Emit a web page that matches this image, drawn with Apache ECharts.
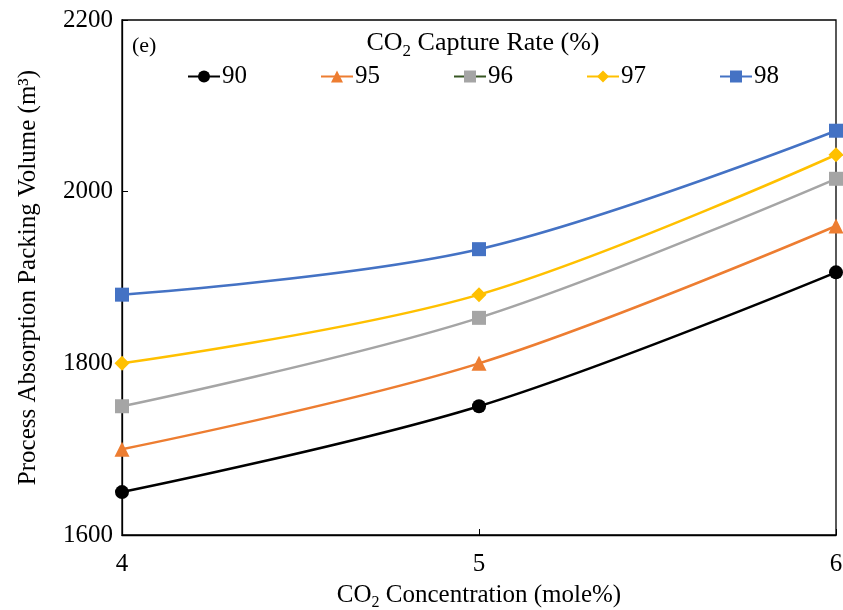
<!DOCTYPE html>
<html><head><meta charset="utf-8">
<script src="https://cdn.jsdelivr.net/npm/echarts@6/dist/echarts.min.js"></script>
<style>html,body{margin:0;padding:0;background:#fff}#c{width:843px;height:610px}</style>
</head><body><div id="c"></div>
<script>
const concentrations = [4, 5, 6];
const seriesNames = ['90', '95', '96', '97', '98'];
const v90 = [1650, 1750, 1906];
const v95 = [1700, 1800, 1960];
const v96 = [1750, 1853, 2015];
const v97 = [1800, 1880, 2043];
const v98 = [1880, 1933, 2071];
const yTicks = [1600, 1800, 2000, 2200];
const xTicks = [4, 5, 6];

const values = [v90, v95, v96, v97, v98];
const colors = ['#000000', '#ED7D31', '#A5A5A5', '#FFC000', '#4472C4'];
const symbols = ['circle', 'triangle', 'rect', 'diamond', 'rect'];
const symSizes = [14, 15, 14, 15, 14];
const legendLine = ['#000000', '#ED7D31', '#375623', '#FFC000', '#4472C4'];
const font = 'Liberation Serif, Times New Roman, serif';

const chart = echarts.init(document.getElementById('c'));
chart.setOption({
  animation: false,
  textStyle: { fontFamily: font },
  grid: { left: 122, right: 7, top: 20, bottom: 75, show: true, borderColor: '#000', borderWidth: 1.3,
          containLabel: false, outerBoundsMode: 'none' },
  title: [{
    text: '(e)', left: 127, top: 30,
    textStyle: { fontFamily: font, fontSize: 22, fontWeight: 'normal', color: '#000' }
  }, {
    text: 'CO{s|2} Capture Rate (%)', left: 478, textAlign: 'center', top: 22,
    textStyle: { fontFamily: font, fontSize: 26, fontWeight: 'normal', color: '#000',
      rich: { s: { fontFamily: font, fontSize: 17, verticalAlign: 'bottom', padding: [16, 0, 0, 0] } } }
  }],
  legend: {
    top: 59, left: 182, itemGap: 73, itemWidth: 32, itemHeight: 15,
    textStyle: { fontFamily: font, fontSize: 25, color: '#000', padding: [0, 0, 0, -3] },
    data: seriesNames.map((n, i) => ({ name: n, lineStyle: { color: legendLine[i] } }))
  },
  xAxis: {
    type: 'value', min: 4, max: 6, interval: 1,
    name: 'CO{s|2} Concentration (mole%)', nameLocation: 'middle', nameGap: 45,
    nameTextStyle: { fontFamily: font, fontSize: 25, color: '#000',
      rich: { s: { fontFamily: font, fontSize: 16, verticalAlign: 'bottom', padding: [15, 0, 0, 0] } } },
    axisLine: { lineStyle: { color: '#000', width: 1.3 } },
    axisTick: { inside: true, length: 6, lineStyle: { color: '#000' } },
    axisLabel: { fontFamily: font, fontSize: 25, color: '#000', margin: 17,
      formatter: v => xTicks.includes(v) ? String(v) : '' },
    splitLine: { show: false }
  },
  yAxis: {
    type: 'value', min: 1600, max: 2200, interval: 200,
    name: 'Process Absorption Packing Volume (m³)', nameLocation: 'middle', nameGap: 81,
    nameTextStyle: { fontFamily: font, fontSize: 25, color: '#000' },
    axisLine: { lineStyle: { color: '#000', width: 1.3 } },
    axisTick: { inside: true, length: 6, lineStyle: { color: '#000' } },
    axisLabel: { fontFamily: font, fontSize: 25, color: '#000', margin: 9,
      formatter: v => yTicks.includes(v) ? String(v) : '' },
    splitLine: { show: false }
  },
  series: seriesNames.map((n, i) => ({
    name: n, type: 'line', smooth: 0.35,
    data: concentrations.map((x, j) => [x, values[i][j]]),
    symbol: symbols[i], symbolSize: symSizes[i],
    lineStyle: { color: colors[i], width: 2.5 },
    itemStyle: { color: colors[i] },
    z: 2 + i
  }))
});
</script></body></html>
